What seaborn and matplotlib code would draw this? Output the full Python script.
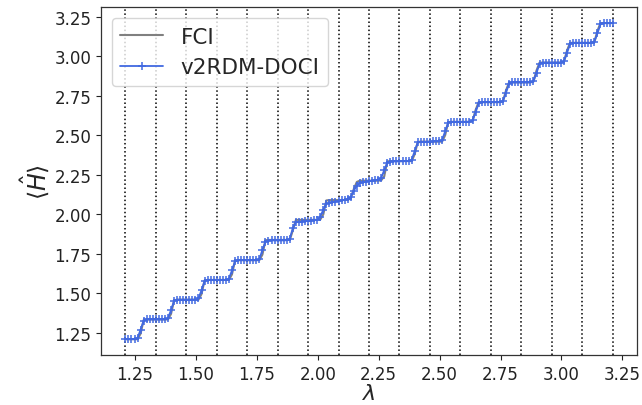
import numpy as np
import pandas as pd
import matplotlib
matplotlib.use("Agg")
import matplotlib.pyplot as plt
import seaborn as sns

# lambda sample grid (evenly spaced samples, 161 points from 1.21 to 3.21)
lam = np.linspace(1.21, 3.21, 161)

# <H> for FCI (10 samples per row)
fci = [
    1.210, 1.210, 1.210, 1.210, 1.210, 1.245, 1.331, 1.335, 1.335, 1.335,
    1.335, 1.335, 1.335, 1.335, 1.335, 1.370, 1.456, 1.460, 1.460, 1.460,
    1.460, 1.460, 1.460, 1.460, 1.460, 1.495, 1.581, 1.585, 1.585, 1.585,
    1.585, 1.585, 1.585, 1.585, 1.585, 1.620, 1.706, 1.710, 1.710, 1.710,
    1.710, 1.710, 1.710, 1.710, 1.710, 1.745, 1.836, 1.838, 1.838, 1.838,
    1.838, 1.838, 1.838, 1.838, 1.838, 1.900, 1.965, 1.965, 1.965, 1.965,
    1.965, 1.965, 1.965, 1.965, 1.967, 2.000, 2.088, 2.090, 2.090, 2.090,
    2.090, 2.090, 2.091, 2.092, 2.100, 2.160, 2.205, 2.213, 2.213, 2.213,
    2.213, 2.213, 2.213, 2.213, 2.215, 2.240, 2.335, 2.337, 2.337, 2.337,
    2.337, 2.337, 2.337, 2.337, 2.337, 2.380, 2.458, 2.460, 2.460, 2.460,
    2.460, 2.460, 2.460, 2.460, 2.460, 2.500, 2.583, 2.585, 2.585, 2.585,
    2.585, 2.585, 2.585, 2.585, 2.590, 2.660, 2.710, 2.710, 2.710, 2.710,
    2.710, 2.710, 2.710, 2.710, 2.715, 2.785, 2.835, 2.835, 2.835, 2.835,
    2.835, 2.835, 2.835, 2.835, 2.840, 2.910, 2.960, 2.960, 2.960, 2.960,
    2.960, 2.960, 2.960, 2.960, 2.965, 3.035, 3.085, 3.085, 3.085, 3.085,
    3.085, 3.085, 3.085, 3.085, 3.090, 3.160, 3.210, 3.210, 3.210, 3.210,
    3.210,
]

# <H> for v2RDM-DOCI
doci = [
    1.210, 1.210, 1.210, 1.210, 1.218, 1.270, 1.327, 1.335, 1.335, 1.335,
    1.335, 1.335, 1.335, 1.335, 1.343, 1.395, 1.452, 1.460, 1.460, 1.460,
    1.460, 1.460, 1.460, 1.460, 1.468, 1.520, 1.577, 1.585, 1.585, 1.585,
    1.585, 1.585, 1.585, 1.585, 1.593, 1.645, 1.702, 1.710, 1.710, 1.710,
    1.710, 1.710, 1.710, 1.710, 1.716, 1.775, 1.826, 1.834, 1.835, 1.835,
    1.835, 1.835, 1.835, 1.836, 1.845, 1.915, 1.950, 1.952, 1.954, 1.956,
    1.958, 1.960, 1.962, 1.966, 1.985, 2.030, 2.068, 2.072, 2.076, 2.080,
    2.084, 2.088, 2.092, 2.097, 2.110, 2.150, 2.180, 2.198, 2.203, 2.207,
    2.210, 2.213, 2.216, 2.220, 2.230, 2.280, 2.325, 2.333, 2.335, 2.335,
    2.335, 2.336, 2.337, 2.338, 2.345, 2.400, 2.455, 2.457, 2.458, 2.459,
    2.460, 2.461, 2.462, 2.463, 2.470, 2.525, 2.580, 2.585, 2.585, 2.585,
    2.585, 2.585, 2.585, 2.586, 2.594, 2.645, 2.702, 2.710, 2.710, 2.710,
    2.710, 2.710, 2.710, 2.710, 2.718, 2.770, 2.827, 2.835, 2.835, 2.835,
    2.835, 2.835, 2.835, 2.835, 2.843, 2.895, 2.952, 2.960, 2.960, 2.960,
    2.960, 2.960, 2.960, 2.960, 2.968, 3.020, 3.077, 3.085, 3.085, 3.085,
    3.085, 3.085, 3.085, 3.085, 3.093, 3.145, 3.202, 3.210, 3.210, 3.210,
    3.210,
]

# vertical reference lines
vlines = [1.21, 1.335, 1.46, 1.585, 1.71, 1.835, 1.96, 2.085, 2.21,
          2.335, 2.46, 2.585, 2.71, 2.835, 2.96, 3.085, 3.21]

xticks = [1.25, 1.50, 1.75, 2.00, 2.25, 2.50, 2.75, 3.00, 3.25]
yticks = [1.25, 1.50, 1.75, 2.00, 2.25, 2.50, 2.75, 3.00, 3.25]

sns.set_style("ticks")
plt.rcParams['font.family'] = ['DejaVu Sans']

fig = plt.figure(figsize=(6.42, 4.06), dpi=100)
ax = fig.add_axes([101 / 642, 1 - 356 / 406, (637 - 101) / 642, (356 - 8.3) / 406])

df = pd.DataFrame({"lam": lam, "FCI": fci, "DOCI": doci})

for v in vlines:
    ax.axvline(v, color="black", linestyle=":", linewidth=1.1, zorder=0)

sns.lineplot(data=df, x="lam", y="FCI", ax=ax, color="grey", linewidth=1.5,
             label="FCI", sort=False)
sns.lineplot(data=df, x="lam", y="DOCI", ax=ax, color="royalblue", linewidth=1.3,
             marker="+", markersize=5.5, markeredgewidth=1.1,
             markeredgecolor="royalblue", markerfacecolor="royalblue",
             label="v2RDM-DOCI", sort=False)

ax.set_xticks(xticks)
ax.set_yticks(yticks)
ax.set_xticklabels([f"{t:.2f}" for t in xticks])
ax.set_yticklabels([f"{t:.2f}" for t in yticks])
ax.tick_params(labelsize=12, direction="out", length=3.5, width=0.8,
               colors="#222222")
for s in ax.spines.values():
    s.set_linewidth(0.9)
    s.set_color("#333333")
    s.set_visible(True)

ax.set_xlim(1.11, 3.31)
ax.set_ylim(1.11, 3.31)
ax.set_xlabel(r"$\lambda$", fontsize=16, labelpad=0)
ax.set_ylabel(r"$\langle \hat{H} \rangle$", fontsize=17, labelpad=2)

ax.legend(loc="upper left", fontsize=15.5, frameon=True, fancybox=True,
          framealpha=0.8, edgecolor="0.8", borderaxespad=0.5)

fig.savefig("out.png", dpi=100)
